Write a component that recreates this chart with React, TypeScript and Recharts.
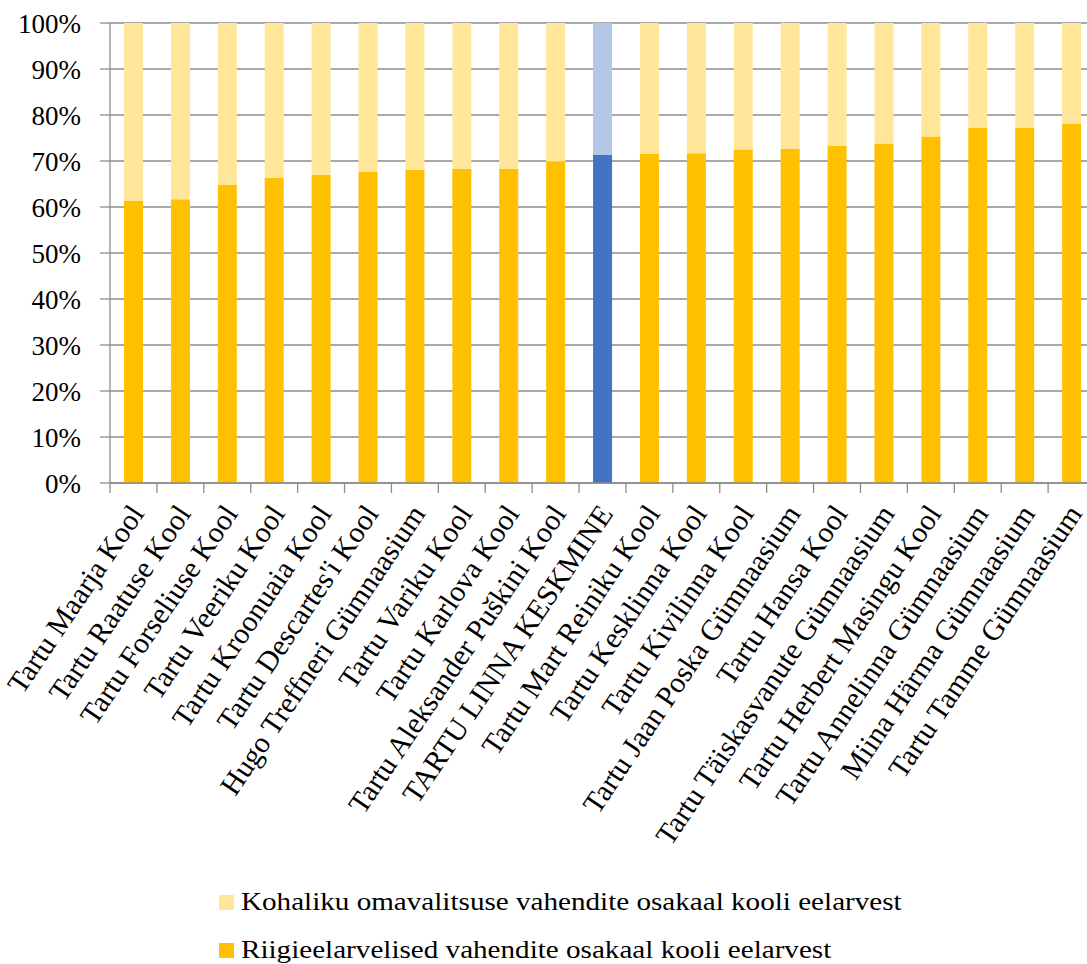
import React from 'react';
import { BarChart, Bar, XAxis, YAxis, CartesianGrid, Cell } from 'recharts';

const categories = [
  'Tartu Maarja Kool',
  'Tartu Raatuse Kool',
  'Tartu Forseliuse Kool',
  'Tartu Veeriku Kool',
  'Tartu Kroonuaia Kool',
  "Tartu Descartes'i Kool",
  'Hugo Treffneri Gümnaasium',
  'Tartu Variku Kool',
  'Tartu Karlova Kool',
  'Tartu Aleksander Puškini Kool',
  'TARTU LINNA KESKMINE',
  'Tartu Mart Reiniku Kool',
  'Tartu Kesklinna Kool',
  'Tartu Kivilinna Kool',
  'Tartu Jaan Poska Gümnaasium',
  'Tartu Hansa Kool',
  'Tartu Täiskasvanute Gümnaasium',
  'Tartu Herbert Masingu Kool',
  'Tartu Annelinna Gümnaasium',
  'Miina Härma Gümnaasium',
  'Tartu Tamme Gümnaasium',
];

const stateShare = [61.3, 61.7, 64.8, 66.3, 67.0, 67.7, 68.1, 68.3, 68.3, 69.9, 71.3, 71.5, 71.7, 72.5, 72.6, 73.3, 73.8, 75.3, 77.2, 77.2, 78.1];
const localShare = stateShare.map((v) => Math.round((100 - v) * 10) / 10);

const highlightCategory = 'TARTU LINNA KESKMINE';
const yTicks = [0, 10, 20, 30, 40, 50, 60, 70, 80, 90, 100];

const localName = 'Kohaliku omavalitsuse vahendite osakaal kooli eelarvest';
const stateName = 'Riigieelarvelised vahendite osakaal kooli eelarvest';

const COLORS = {
  state: '#FFC000',
  local: '#FFE699',
  stateHi: '#4472C4',
  localHi: '#B4C7E7',
  grid: '#8c8c8c',
};

const data = categories.map((name, i) => ({ name, state: stateShare[i], local: localShare[i] }));

const CAT_W = 985 / 21;
const FONT = '"Liberation Serif", "Times New Roman", serif';

const XTick = (props: any) => {
  const { x, y, payload, index } = props;
  return (
    <g>
      <line x1={x - CAT_W / 2} x2={x - CAT_W / 2} y1={y} y2={y + 10} stroke={COLORS.grid} strokeWidth={1.3} />
      {index === categories.length - 1 && (
        <line x1={x + CAT_W / 2} x2={x + CAT_W / 2} y1={y} y2={y + 10} stroke={COLORS.grid} strokeWidth={1.3} />
      )}
      <text
        transform={`translate(${x + 3},${y + 25}) rotate(-56)`}
        textAnchor="end"
        dy="0.35em"
        fontSize={29.5}
        fontFamily={FONT}
        fill="#000"
      >
        {payload.value}
      </text>
    </g>
  );
};

const legendItems = [
  { name: localName, color: COLORS.local },
  { name: stateName, color: COLORS.state },
];

export default function App() {
  return (
    <div style={{ position: 'absolute', left: 0, top: 0, width: 1087, height: 964, overflow: 'hidden', background: '#fff' }}>
      <BarChart
        width={1096}
        height={964}
        data={data}
        margin={{ top: 23, right: 1, left: 0, bottom: 0 }}
        barSize={19}
      >
        <CartesianGrid vertical={false} stroke={COLORS.grid} strokeWidth={1.3} />
        <XAxis
          dataKey="name"
          interval={0}
          height={481}
          tickSize={0}
          tickMargin={0}
          tickLine={false}
          axisLine={{ stroke: COLORS.grid, strokeWidth: 1.3 }}
          tick={<XTick />}
        />
        <YAxis
          width={110}
          domain={[0, 100]}
          ticks={yTicks}
          interval={0}
          tickFormatter={(v: number) => `${v}%`}
          tickSize={10}
          tickMargin={19}
          axisLine={{ stroke: COLORS.grid, strokeWidth: 1.3 }}
          tickLine={{ stroke: COLORS.grid, strokeWidth: 1.3 }}
          tick={{ fontSize: 27, fontFamily: FONT, fill: '#000' }}
        />
        <Bar dataKey="state" stackId="a" name={stateName} isAnimationActive={false}>
          {data.map((d, i) => (
            <Cell key={i} fill={d.name === highlightCategory ? COLORS.stateHi : COLORS.state} />
          ))}
        </Bar>
        <Bar dataKey="local" stackId="a" name={localName} isAnimationActive={false}>
          {data.map((d, i) => (
            <Cell key={i} fill={d.name === highlightCategory ? COLORS.localHi : COLORS.local} />
          ))}
        </Bar>
      </BarChart>
      {legendItems.map((it, i) => (
        <div
          key={it.name}
          style={{
            position: 'absolute',
            left: 219,
            top: 902 + i * 48 - 16,
            height: 32,
            display: 'flex',
            alignItems: 'center',
            fontFamily: FONT,
            fontSize: 26,
            lineHeight: '32px',
            color: '#000',
            whiteSpace: 'nowrap',
          }}
        >
          <span style={{ display: 'inline-block', width: 15, height: 15, background: it.color, marginRight: 7 }} />
          <span style={{ display: 'inline-block', transform: 'scaleX(1.12)', transformOrigin: 'left center' }}>{it.name}</span>
        </div>
      ))}
    </div>
  );
}
